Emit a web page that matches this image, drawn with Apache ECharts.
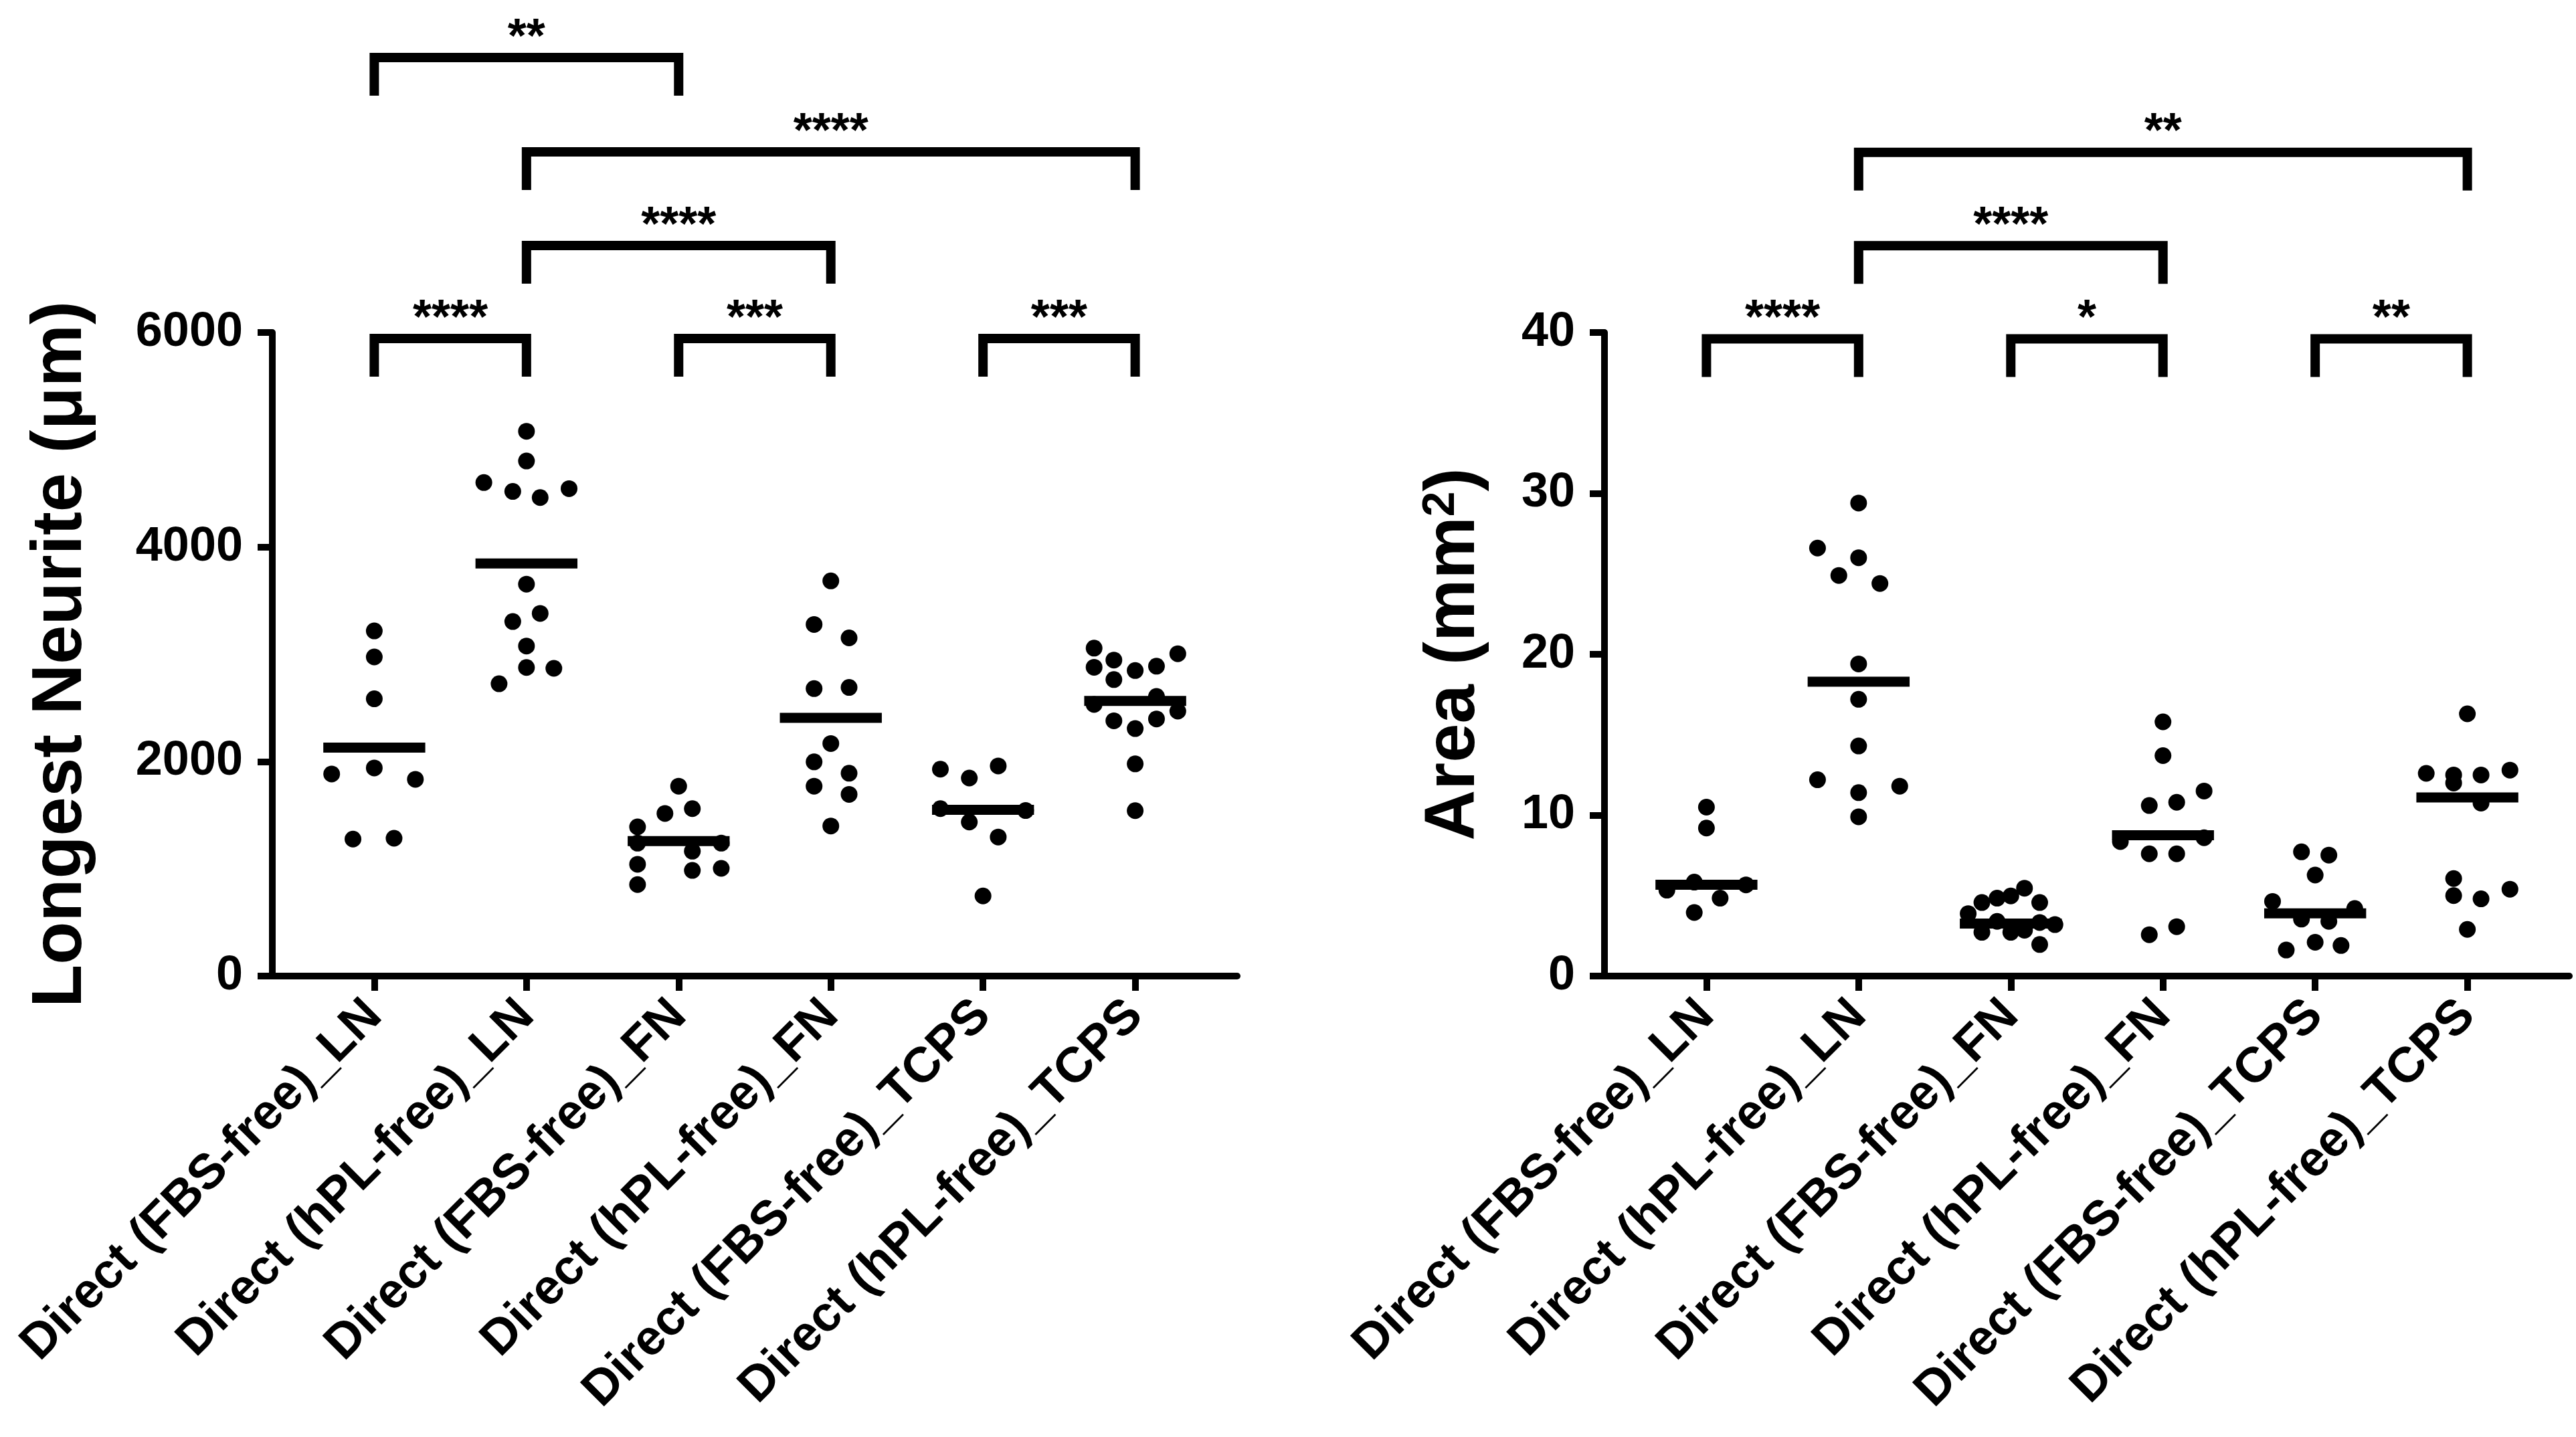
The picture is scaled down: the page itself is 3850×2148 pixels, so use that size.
<!DOCTYPE html>
<html>
<head>
<meta charset="utf-8">
<script src="https://cdn.jsdelivr.net/npm/echarts@6/dist/echarts.min.js"></script>
<style>
  html, body { margin: 0; padding: 0; background: #fff; }
  #main { width: 3850px; height: 2148px; }
</style>
</head>
<body>
<div id="main"></div>
<script>
// groups on the x axis (same for both panels)
var groups = ['Direct (FBS-free)_LN', 'Direct (hPL-free)_LN', 'Direct (FBS-free)_FN',
              'Direct (hPL-free)_FN', 'Direct (FBS-free)_TCPS', 'Direct (hPL-free)_TCPS'];
var groupPos = [1, 2, 3, 4, 5, 6];

// Longest Neurite (um), one list per group
var neuriteValues = [
    [3218, 2975, 2585, 1884, 1940, 1834, 1277, 1285],
    [5079, 4802, 4601, 4518, 4461, 4544, 3654, 3305, 3381, 3077, 2877, 2869, 2725],
    [1770, 1516, 1561, 1391, 1239, 1239, 1164, 1042, 985, 1004, 853],
    [3684, 3278, 3153, 2680, 2691, 2168, 1997, 1891, 1770, 1694, 1399],
    [1929, 1846, 1959, 1561, 1543, 1436, 1296, 747],
    [3057, 2879, 2946, 2764, 2848, 2889, 3005, 2533, 2607, 2470, 2380, 2307, 2397, 1978, 1542]
];
// horizontal scatter of each dot inside its column (x units)
var neuriteJitter = [
    [0, 0, 0, -0.28, 0, 0.27, -0.14, 0.13],
    [0, 0, -0.28, -0.09, 0.09, 0.28, 0, -0.09, 0.09, 0, 0, 0.18, -0.18],
    [0, -0.09, 0.09, -0.27, -0.27, 0.28, 0.09, -0.27, 0.09, 0.28, -0.27],
    [0, -0.11, 0.12, -0.11, 0.12, 0, -0.11, 0.12, -0.11, 0.12, 0],
    [-0.28, -0.09, 0.1, -0.28, 0.28, -0.09, 0.1, 0],
    [-0.27, -0.27, -0.14, -0.14, 0, 0.14, 0.28, -0.27, 0.14, 0.28, -0.14, 0, 0.14, 0, 0]
];
var neuriteMeans = [2130, 3847, 1258, 2407, 1550, 2565];

// Area (mm2), one list per group
var areaValues = [
    [10.5, 9.2, 5.34, 5.84, 5.67, 4.84, 3.95],
    [29.4, 26.6, 26.0, 24.9, 24.4, 19.4, 17.2, 14.3, 12.2, 11.8, 11.4, 9.9],
    [4.57, 4.84, 4.98, 5.46, 4.57, 3.88, 2.72, 3.40, 2.72, 2.85, 3.33, 3.20, 1.96],
    [15.8, 13.7, 11.5, 10.8, 10.6, 8.36, 8.6, 7.6, 7.6, 3.07, 2.57],
    [7.72, 7.52, 6.28, 4.64, 4.2, 3.54, 3.40, 1.62, 2.10, 1.90],
    [16.3, 12.6, 12.5, 12.5, 12.8, 12.0, 10.75, 6.06, 5.0, 4.8, 5.4, 2.9]
];
var areaJitter = [
    [0, 0, -0.26, -0.08, 0.26, 0.09, -0.08],
    [0, -0.27, 0, -0.13, 0.14, 0, 0, 0, -0.27, 0.27, 0, 0],
    [-0.19, -0.09, 0, 0.09, 0.19, -0.28, -0.19, -0.09, 0, 0.09, 0.19, 0.29, 0.19],
    [0, 0, 0.27, 0.09, -0.09, -0.28, 0.27, -0.09, 0.09, 0.09, -0.09],
    [-0.09, 0.09, 0, -0.28, 0.26, -0.09, 0.09, -0.19, 0, 0.17],
    [0, -0.27, -0.09, 0.09, 0.28, -0.09, 0.09, -0.09, -0.09, 0.09, 0.28, 0]
];
var areaMeans = [5.68, 18.3, 3.26, 8.75, 3.9, 11.1];

// significance brackets: [from group, to group, height (axis units), stars]
var neuriteBrackets = [
    [1, 3, 8563, '**'],
    [2, 6, 7684, '****'],
    [2, 4, 6811, '****'],
    [1, 2, 5944, '****'],
    [3, 4, 5944, '***'],
    [5, 6, 5944, '***']
];
var areaBrackets = [
    [2, 6, 51.2, '**'],
    [2, 4, 45.4, '****'],
    [1, 2, 39.6, '****'],
    [3, 4, 39.6, '*'],
    [5, 6, 39.6, '**']
];

var FONT = '"Liberation Sans", Arial, Helvetica, sans-serif';

function dots(values, jitter) {
    var out = [];
    for (var i = 0; i < values.length; i++) {
        for (var j = 0; j < values[i].length; j++) {
            out.push([groupPos[i] + jitter[i][j], values[i][j]]);
        }
    }
    return out;
}

function meanItem(params, api) {
    var x = api.value(0), m = api.value(1);
    var a = api.coord([x - 0.335, m]);
    var b = api.coord([x + 0.335, m]);
    return {
        type: 'line',
        shape: { x1: a[0], y1: a[1], x2: b[0], y2: b[1] },
        style: { stroke: '#000', lineWidth: 15 }
    };
}

function bracketItem(params, api) {
    var a = api.coord([api.value(0), api.value(2)]);
    var b = api.coord([api.value(1), api.value(2)]);
    var leg = 57;
    return {
        type: 'group',
        children: [
            {
                type: 'polyline',
                shape: { points: [[a[0], a[1] + leg], [a[0], a[1]], [b[0], b[1]], [b[0], b[1] + leg]] },
                style: { stroke: '#000', lineWidth: 14, fill: null, lineJoin: 'miter', lineCap: 'butt' }
            },
            {
                type: 'text',
                style: {
                    text: api.value(3),
                    x: (a[0] + b[0]) / 2,
                    y: a[1] - 28,
                    align: 'center',
                    verticalAlign: 'middle',
                    fill: '#000',
                    font: 'bold 72px ' + FONT
                }
            }
        ]
    };
}

function xAxisFor(idx) {
    return {
        gridIndex: idx,
        type: 'value',
        min: 0.33,
        max: 6.67,
        splitLine: { show: false },
        axisLine: { show: true, onZero: false, lineStyle: { color: '#000', width: 10 } },
        axisTick: { show: true, customValues: groupPos, length: 22, lineStyle: { color: '#000', width: 10 } },
        axisLabel: {
            customValues: groupPos,
            rotate: 45,
            margin: 48,
            color: '#000',
            fontSize: 74,
            fontWeight: 'bold',
            fontFamily: FONT,
            formatter: function (v) { return groups[Math.round(v) - 1]; }
        }
    };
}

function yAxisFor(idx, max, interval, name, gap) {
    return {
        gridIndex: idx,
        type: 'value',
        min: 0,
        max: max,
        interval: interval,
        name: name,
        nameLocation: 'middle',
        nameRotate: 90,
        nameGap: gap,
        nameTextStyle: {
            color: '#000', fontSize: 105, fontWeight: 'bold', fontFamily: FONT,
            rich: {
                sup: { color: '#000', fontSize: 68, fontWeight: 'bold', fontFamily: FONT, verticalAlign: 'top', padding: [0, 0, 40, 0] }
            }
        },
        splitLine: { show: false },
        axisLine: { show: true, lineStyle: { color: '#000', width: 10 } },
        axisTick: { show: true, length: 22, lineStyle: { color: '#000', width: 10 } },
        axisLabel: {
            margin: 44, color: '#000', fontSize: 72, fontWeight: 'bold', fontFamily: FONT,
            formatter: function (v) { return String(v); }
        }
    };
}

var chart = echarts.init(document.getElementById('main'));
var option = {
    animation: false,
    backgroundColor: '#fff',
    grid: [
        { left: 407, top: 497, width: 1442, height: 962 },
        { left: 2398, top: 497, width: 1442, height: 962 }
    ],
    xAxis: [xAxisFor(0), xAxisFor(1)],
    yAxis: [
        yAxisFor(0, 6000, 2000, 'Longest Neurite (\u03bcm)', 262),
        yAxisFor(1, 40, 10, 'Area (mm{sup|2})', 170)
    ],
    series: [
        {
            type: 'scatter', xAxisIndex: 0, yAxisIndex: 0,
            symbol: 'circle', symbolSize: 25, itemStyle: { color: '#000', opacity: 1 },
            data: dots(neuriteValues, neuriteJitter)
        },
        {
            type: 'custom', xAxisIndex: 0, yAxisIndex: 0, clip: false,
            renderItem: meanItem,
            data: neuriteMeans.map(function (m, i) { return [groupPos[i], m]; })
        },
        {
            type: 'custom', xAxisIndex: 0, yAxisIndex: 0, clip: false,
            renderItem: bracketItem,
            encode: { x: [0, 1], y: 2 },
            data: neuriteBrackets
        },
        {
            type: 'scatter', xAxisIndex: 1, yAxisIndex: 1,
            symbol: 'circle', symbolSize: 25, itemStyle: { color: '#000', opacity: 1 },
            data: dots(areaValues, areaJitter)
        },
        {
            type: 'custom', xAxisIndex: 1, yAxisIndex: 1, clip: false,
            renderItem: meanItem,
            data: areaMeans.map(function (m, i) { return [groupPos[i], m]; })
        },
        {
            type: 'custom', xAxisIndex: 1, yAxisIndex: 1, clip: false,
            renderItem: bracketItem,
            encode: { x: [0, 1], y: 2 },
            data: areaBrackets
        }
    ]
};
chart.setOption(option);
</script>
</body>
</html>
